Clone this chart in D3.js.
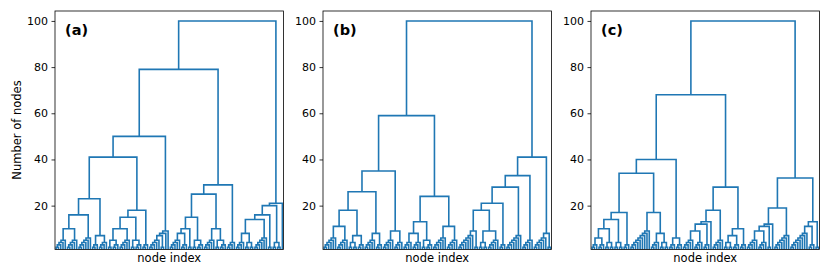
<!DOCTYPE html>
<html>
<head>
<meta charset="utf-8">
<script src="https://cdn.jsdelivr.net/npm/d3@7"></script>
<style>
  body { margin: 0; background: #fff; }
  svg { display: block; font-family: "DejaVu Sans", sans-serif; }
</style>
</head>
<body>
<div class="canvas"></div>
<script>
const canvasWidth = 830;
const canvasHeight = 277;

// panel labels and axis text
const panelLabels = ['(a)', '(b)', '(c)'];
const yTicks = [20, 40, 60, 80, 100];
const yLabel = 'Number of nodes';
const xLabel = 'node index';

// dendrograms, one leaf = '.', merges = (...)
// merge height = number of nodes under it
const treeA = `(
 (
  (
   (
    ( ( ( ((((..).).).) ((((..).).).) ) (((((..).).).).) ) ( ((..).) (((..).).) ) )
    ( ( ( ((..)((..).)) ((((..).).).) ) ((..)((..).)) ) ((..).) )
   )
   ( ( ( ((((..).).).) (..) ) . ) . )
  )
  (
   (
    ( ( ( ((((..).).).) ((..).) ) (..) ) ((..)((..).)) )
    ( ((((..).).).) ((..)((..).)) )
   )
   (((..).).)
  )
 )
 ( ( ( ( ( (((..).).) ((..)(..)) ) (((((..).).).).) ) (..) ) ((..)(..)) ) . )
)`;

const treeB = `(
 (
  (
   (
    ( ( (((((..).).).).) ((((..).).).) ) ( ((..)(..)) ((..).) ) )
    ( ((((..).).).) ((..).) )
   )
   ( ((((..).).).) (((..).).) )
  )
  (
   ( ( (((..).).) (((..).).) ) ((..)((..).)) )
   ( (((((..).).).).) ((((..).).).) )
  )
 )
 (
  (
   (
    (
     ( ( ((((((..).).).).).) (..) ) ( ((..)(..)) ((((..).).).) ) )
     ((..).)
    )
    ((((((..).).).).).)
   )
   ((((..).).).)
  )
  ( (((((..).).).).) (..) )
 )
)`;

const treeC = `(
 (
  (
   (
    ( ( ( ( ((..).) ((..).) ) ((..)(..)) ) ((..)(..)) ) ((..).) )
    ( ((((((((..).).).).).).).) ( (((..).).) ((..)(..)) ) )
   )
   ( ((..).) ((..).) )
  )
  (
   ( ( ( ( ((((..).).).) (((..).).) ) ((..).) ) . ) ((((..).).).) )
   ( ( ((..)(..)) ((..).) ) ((..).) )
  )
 )
 (
  ( ( ( ( ((((..).).).) (((..).).) ) (..) ) . ) ((((((..).).).).).) )
  ( ( (((((((..).).).).).).) ((..).) ) (..) )
 )
)`;

const trees = [treeA, treeB, treeC];

const panelLeft = [55, 323, 591];
const panelWidth = 228.5;
const panelTop = 11;
const panelBottom = 249.5;
const graphHeight = panelBottom - panelTop;
const lineColor = '#1f77b4';

function parseTree(str) {
	const s = str.replace(/\s+/g, '');
	let i = 0;
	function node() {
		if (s[i] === '.') { i++; return {}; }
		if (s[i] !== '(') throw new Error('bad tree at ' + i);
		i++;
		const children = [];
		while (s[i] !== ')') {
			if (i >= s.length) throw new Error('unclosed tree');
			children.push(node());
		}
		i++;
		return { children };
	}
	const root = node();
	if (i !== s.length) throw new Error('trailing text in tree');
	return root;
}

const svg = d3.select('.canvas')
	.append('svg')
	.attr('width', canvasWidth)
	.attr('height', canvasHeight);

const y = d3.scaleLinear()
	.domain([1, 104.3])
	.range([graphHeight, 0]);

trees.forEach((tree, p) => {
	const root = d3.hierarchy(parseTree(tree)).count();
	const leaves = root.leaves();

	const x = d3.scaleLinear()
		.domain([0, leaves.length])
		.range([0, panelWidth]);

	leaves.forEach((d, i) => d.px = x(i + 0.5));
	root.eachAfter(d => {
		if (d.children) {
			d.px = (d.children[0].px + d.children[d.children.length - 1].px) / 2;
		}
	});

	const graph = svg.append('g')
		.attr('transform', `translate(${panelLeft[p]},${panelTop})`);

	graph.append('clipPath')
		.attr('id', 'clip' + p)
		.append('rect')
		.attr('width', panelWidth)
		.attr('height', graphHeight);

	const internal = root.descendants().filter(d => d.children);

	graph.append('g')
		.attr('clip-path', `url(#clip${p})`)
		.selectAll('path')
		.data(internal)
		.enter()
		.append('path')
		.attr('fill', 'none')
		.attr('stroke', lineColor)
		.attr('stroke-width', 1.6)
		.attr('stroke-linejoin', 'miter')
		.attr('d', d => {
			const a = d.children[0];
			const b = d.children[d.children.length - 1];
			let path = `M${a.px},${y(a.value)}V${y(d.value)}H${b.px}V${y(b.value)}`;
			d.children.slice(1, -1).forEach(c => {
				path += `M${c.px},${y(d.value)}V${y(c.value)}`;
			});
			return path;
		});

	// frame
	graph.append('rect')
		.attr('width', panelWidth)
		.attr('height', graphHeight)
		.attr('fill', 'none')
		.attr('stroke', '#000')
		.attr('stroke-width', 0.8);

	const yAxis = d3.axisLeft(y)
		.tickValues(yTicks)
		.tickSize(3.5)
		.tickPadding(3.5);

	const yAxisGroup = graph.append('g').call(yAxis);
	yAxisGroup.select('.domain').remove();
	yAxisGroup.selectAll('line').attr('stroke', '#000').attr('stroke-width', 0.8);
	yAxisGroup.selectAll('text')
		.attr('font-family', '"DejaVu Sans", sans-serif')
		.attr('font-size', '11px')
		.attr('fill', '#000');

	graph.append('text')
		.attr('x', 10)
		.attr('y', 35 - panelTop)
		.attr('font-size', '14.5px')
		.attr('font-weight', 'bold')
		.text(panelLabels[p]);

	graph.append('text')
		.attr('x', panelWidth / 2)
		.attr('y', 262 - panelTop)
		.attr('text-anchor', 'middle')
		.attr('font-size', '11.5px')
		.text(xLabel);

	if (p === 0) {
		graph.append('text')
			.attr('transform', `translate(${21 - panelLeft[p]},${130 - panelTop}) rotate(-90)`)
			.attr('text-anchor', 'middle')
			.attr('font-size', '11.5px')
			.text(yLabel);
	}
});
</script>
</body>
</html>
